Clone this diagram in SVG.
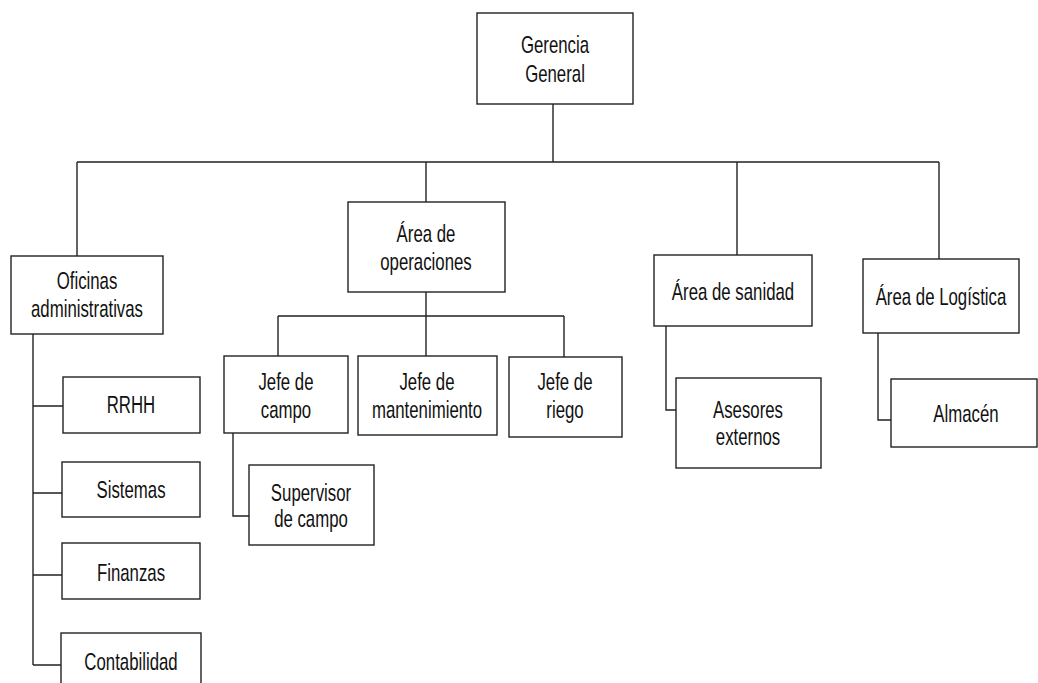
<svg xmlns="http://www.w3.org/2000/svg" width="1038" height="683" viewBox="0 0 1038 683">
<style>
.box{fill:#fff;stroke:#222;stroke-width:1.4}
.ln{fill:none;stroke:#222;stroke-width:1.4}
text{font-family:"Liberation Sans",Arial,sans-serif;font-size:24px;fill:#111;text-anchor:middle}
</style>
<rect width="1038" height="683" fill="#fff"/>
<g id="connectors" class="ln">
<path d="M553 104V162M77 162H939M77 162V256M426 162V202M737 162V255M939 162V259"/>
<path d="M426 292V316M278 316H564M278 316V356M426 316V356M564 316V357"/>
<path d="M33 334V665M33 406H63M33 493H62M33 575H62M33 665H61"/>
<path d="M233 433V516H249"/>
<path d="M666 326V410H676"/>
<path d="M878 333V420H891"/>
</g>
<g id="gerencia"><rect class="box" x="477" y="13" width="156" height="91"/><text transform="translate(555,53) scale(0.7,1)"><tspan x="0" y="0">Gerencia</tspan><tspan x="0" y="29">General</tspan></text></g>
<g id="oficinas"><rect class="box" x="11" y="256" width="152" height="78"/><text transform="translate(87,289) scale(0.7,1)"><tspan x="0" y="0">Oficinas</tspan><tspan x="0" y="28">administrativas</tspan></text></g>
<g id="operaciones"><rect class="box" x="348" y="202" width="157" height="90"/><text transform="translate(426,242) scale(0.7,1)"><tspan x="0" y="0">Área de</tspan><tspan x="0" y="28">operaciones</tspan></text></g>
<g id="sanidad"><rect class="box" x="654" y="255" width="158" height="71"/><text transform="translate(733,300) scale(0.7,1)">Área de sanidad</text></g>
<g id="logistica"><rect class="box" x="863" y="259" width="156" height="74"/><text transform="translate(941,305) scale(0.7,1)">Área de Logística</text></g>
<g id="jefe-campo"><rect class="box" x="224" y="356" width="124" height="77"/><text transform="translate(286,390) scale(0.7,1)"><tspan x="0" y="0">Jefe de</tspan><tspan x="0" y="28">campo</tspan></text></g>
<g id="jefe-mantenimiento"><rect class="box" x="358" y="356" width="139" height="79"/><text transform="translate(427,390) scale(0.7,1)"><tspan x="0" y="0">Jefe de</tspan><tspan x="0" y="28">mantenimiento</tspan></text></g>
<g id="jefe-riego"><rect class="box" x="509" y="357" width="113" height="80"/><text transform="translate(565,390) scale(0.7,1)"><tspan x="0" y="0">Jefe de</tspan><tspan x="0" y="28">riego</tspan></text></g>
<g id="supervisor"><rect class="box" x="249" y="465" width="125" height="80"/><text transform="translate(311,501) scale(0.7,1)"><tspan x="0" y="0">Supervisor</tspan><tspan x="0" y="26">de campo</tspan></text></g>
<g id="asesores"><rect class="box" x="676" y="378" width="145" height="90"/><text transform="translate(748,418) scale(0.7,1)"><tspan x="0" y="0">Asesores</tspan><tspan x="0" y="27">externos</tspan></text></g>
<g id="almacen"><rect class="box" x="891" y="379" width="146" height="68"/><text transform="translate(966,422) scale(0.7,1)">Almacén</text></g>
<g id="rrhh"><rect class="box" x="63" y="377" width="137" height="56"/><text transform="translate(131,413) scale(0.7,1)">RRHH</text></g>
<g id="sistemas"><rect class="box" x="62" y="462" width="138" height="55"/><text transform="translate(131,498) scale(0.7,1)">Sistemas</text></g>
<g id="finanzas"><rect class="box" x="62" y="543" width="138" height="56"/><text transform="translate(131,581) scale(0.7,1)">Finanzas</text></g>
<g id="contabilidad"><rect class="box" x="61" y="633" width="140" height="70"/><text transform="translate(131,670) scale(0.7,1)">Contabilidad</text></g>
</svg>
